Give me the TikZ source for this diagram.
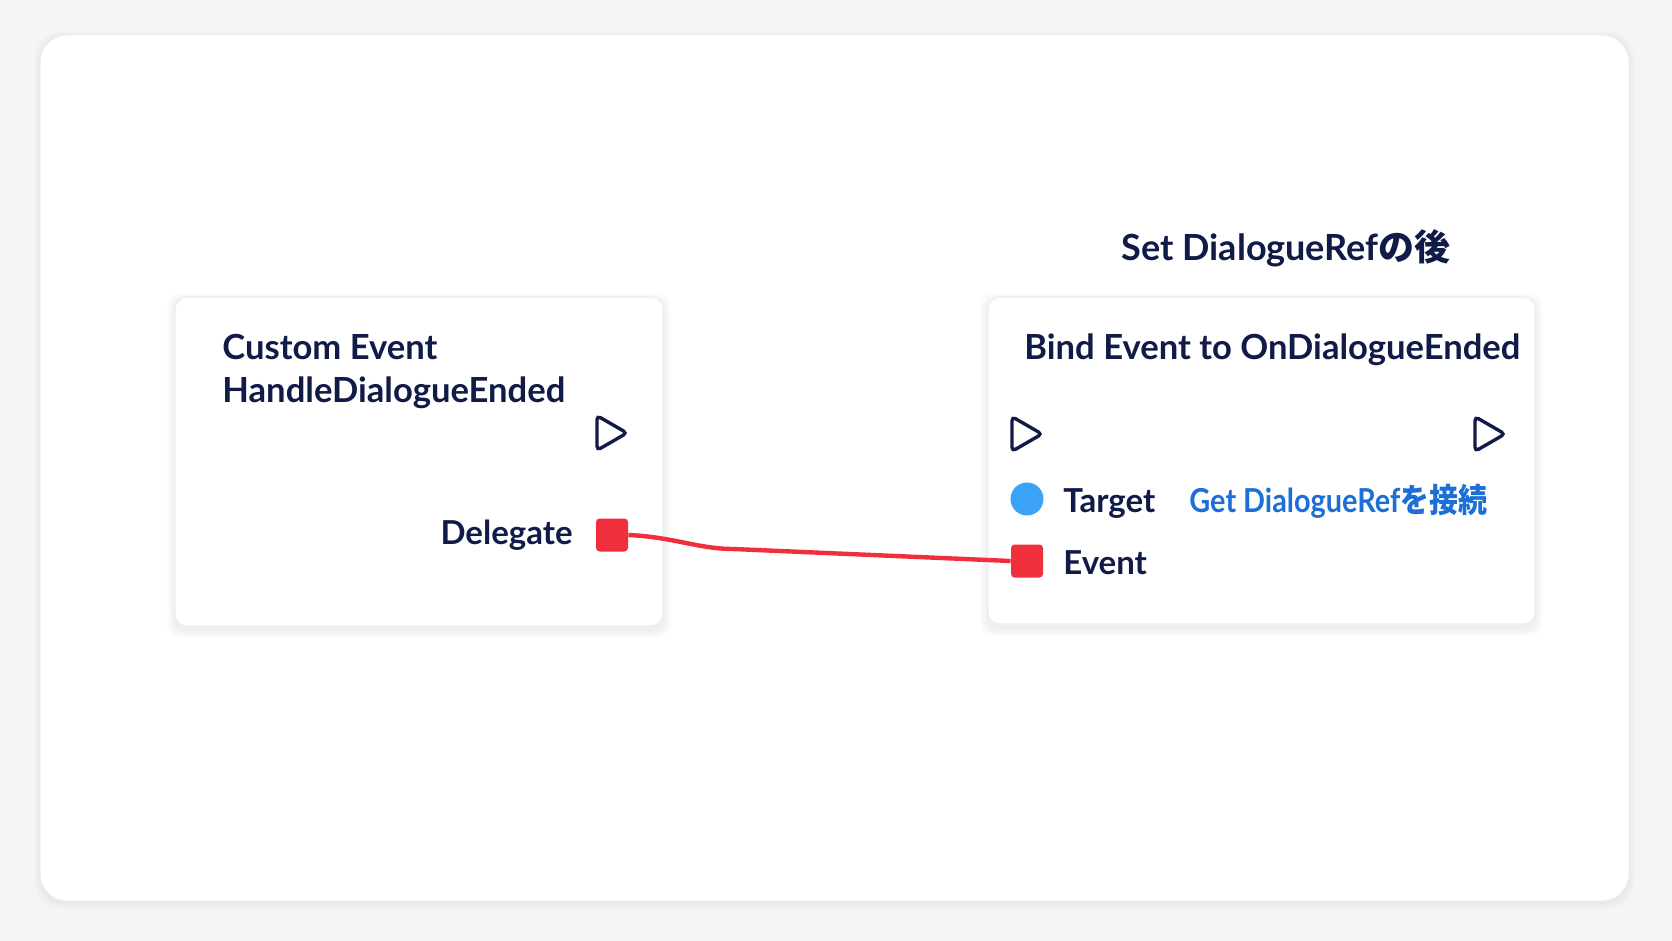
\documentclass[tikz,border=0pt]{standalone}
\usepackage{fontspec}
\usepackage{graphicx}
\setmainfont{Lato}
\newfontfamily\cjk{Noto Sans CJK JP}
\usetikzlibrary{shapes.geometric}

\definecolor{pagebg}{HTML}{F4F5F7}
\definecolor{cardline}{HTML}{ECEEF2}
\definecolor{navy}{HTML}{111B47}
\definecolor{pinred}{HTML}{EF2F3B}
\definecolor{pinblue}{HTML}{3BA2F6}
\definecolor{linkblue}{HTML}{1B6FD6}

\begin{document}
\begin{tikzpicture}[
      x=0.5pt, y=-0.5pt,
      outer_card/.style={fill=white, draw=cardline, line width=0.5pt, rounded corners=13.5pt},
      node_card/.style={fill=white, draw=cardline, line width=0.6pt, rounded corners=6pt},
      label_text/.style={inner sep=0pt, text=navy, font=\bfseries\fontsize{16.5}{19}\selectfont},
      title_text/.style={label_text, font=\bfseries\fontsize{17.3}{20}\selectfont},
      exec_pin/.style={regular polygon, regular polygon sides=3, shape border rotate=-90,
        minimum size=20pt, inner sep=0pt, draw=navy, line width=1.7pt, rounded corners=2pt},
      delegate_pin/.style={rectangle, minimum width=16pt, minimum height=16.5pt,
        inner sep=0pt, fill=pinred, rounded corners=1.8pt},
      object_pin/.style={circle, minimum size=16.5pt, inner sep=0pt, fill=pinblue},
      wire/.style={draw=pinred, line width=2.2pt}
    ]

    % ------------------------------------------------------------------ %
    % Background and outer card
    % ------------------------------------------------------------------ %

    \fill[pagebg] (0,0) rectangle (1672,941);
    \useasboundingbox (0,0) rectangle (1672,941);
    \foreach \s in {1,...,6}
      \fill[black, opacity=0.006, rounded corners=13.5pt] (40-\s,35-\s+2) rectangle (1629+\s,901+\s+2);
    \draw[outer_card] (40,35) rectangle (1629,901);

    % ------------------------------------------------------------------ %
    % Node cards
    % ------------------------------------------------------------------ %

    % soft shadows
    \foreach \s in {1,...,8}
      \fill[black, opacity=0.007, rounded corners=6pt] (175-\s,297-\s+4) rectangle (663+\s,626+\s+4);
    \foreach \s in {1,...,8}
      \fill[black, opacity=0.007, rounded corners=6pt] (988-\s,297-\s+4) rectangle (1535+\s,624+\s+4);

    \draw[node_card] (175,297) rectangle (663,626);
    \draw[node_card] (988,297) rectangle (1535,624);

    % ------------------------------------------------------------------ %
    % Custom event node
    % ------------------------------------------------------------------ %

    \node[title_text, anchor=base west] (ce_title) at (222,360) {Custom Event};
    \node[title_text, anchor=base west] (ce_name) at (222,402) {HandleDialogueEnded};
    \node[exec_pin] (ce_exec) at (607,433) {};
    \node[delegate_pin] (ce_delegate) at (612,535) {};
    \node[label_text, anchor=base east] (ce_delegate_label) at (573,545) {Delegate};

    % ------------------------------------------------------------------ %
    % Bind event node
    % ------------------------------------------------------------------ %

    \node[title_text, anchor=base, font=\bfseries\fontsize{18}{21}\selectfont] (bind_note) at (1286,261) {Set DialogueRef{\cjk の後}};
    \node[title_text, anchor=base west] (bind_title) at (1024,360) {Bind Event to OnDialogueEnded};
    \node[exec_pin] (bind_exec_in) at (1022,434) {};
    \node[exec_pin] (bind_exec_out) at (1485,434) {};
    \node[object_pin] (bind_target) at (1027,499) {};
    \node[label_text, anchor=base west] (bind_target_label) at (1063,512) {Target};
    \node[label_text, anchor=base west, text=linkblue] (bind_target_hint) at (1189,512) {\scalebox{0.875}[1]{Get DialogueRef{\cjk を接続}}};
    \node[delegate_pin] (bind_event) at (1027,561) {};
    \node[label_text, anchor=base west] (bind_event_label) at (1063,574) {Event};

    % ------------------------------------------------------------------ %
    % Wire
    % ------------------------------------------------------------------ %

    \draw[wire] (ce_delegate.east) .. controls +(45,2) and +(-35,0) .. ++(105,14) -- (bind_event.west);

    \end{tikzpicture}
\end{document}
